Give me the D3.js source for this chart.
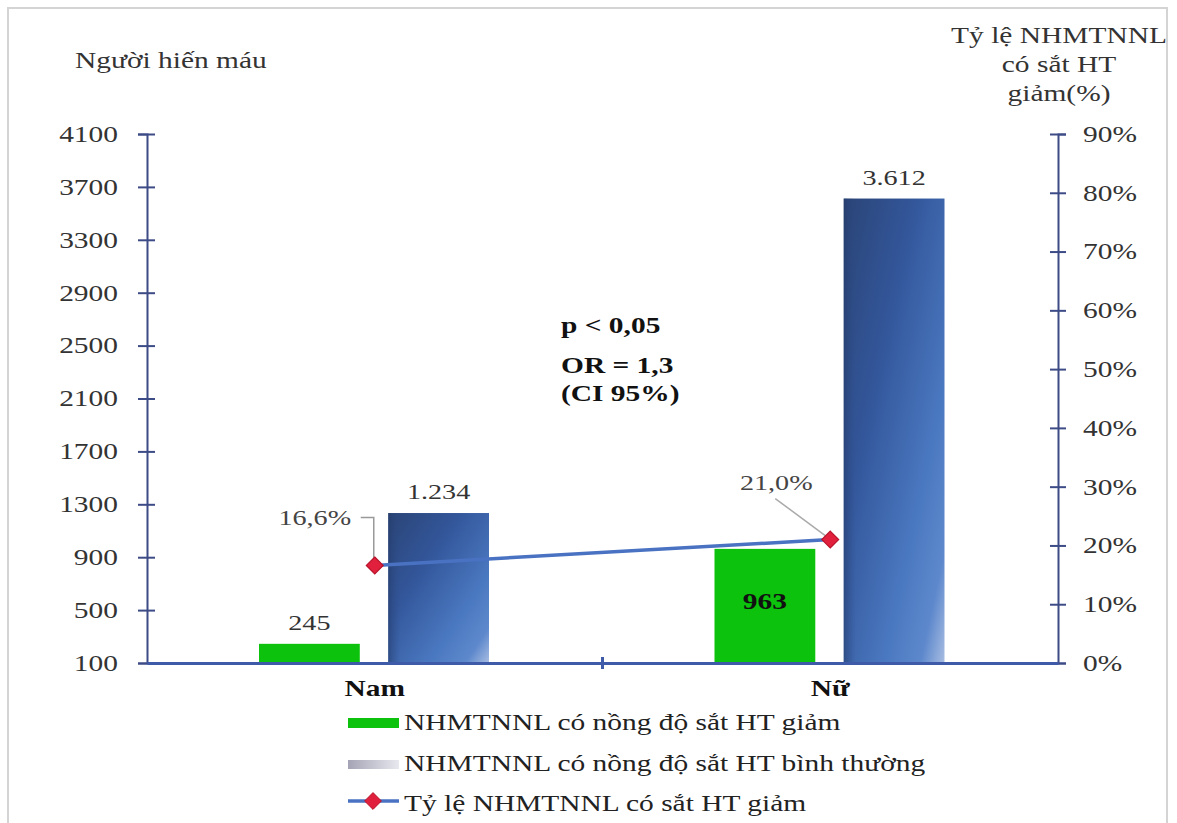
<!DOCTYPE html>
<html>
<head>
<meta charset="utf-8">
<script src="https://cdn.jsdelivr.net/npm/d3@7"></script>
<style>
  html, body { margin: 0; padding: 0; background: #fff; }
  svg { display: block; }
  text { font-family: "Liberation Serif", "Times New Roman", serif; fill: #222; }
</style>
</head>
<body>
<svg id="chart" width="1177" height="823"></svg>
<script>
// Groups and series
const categories = ["Nam", "Nữ"];
const seriesNames = ["NHMTNNL có nồng độ sắt HT giảm", "NHMTNNL có nồng độ sắt HT bình thường"];
const lowIron = [245, 963];          // donors with reduced serum iron
const normalIron = [1234, 3612];     // donors with normal serum iron
const lowIronRate = [0.166, 0.210];  // share of donors with reduced serum iron
const lowIronLabels = ["245", "963"];
const normalIronLabels = ["1.234", "3.612"];
const rateLabels = ["16,6%", "21,0%"];
const leftTicks = [100, 500, 900, 1300, 1700, 2100, 2500, 2900, 3300, 3700, 4100];
const rightTicks = [0, 0.1, 0.2, 0.3, 0.4, 0.5, 0.6, 0.7, 0.8, 0.9];
const lineName = "Tỷ lệ NHMTNNL có sắt HT giảm";
const leftTitle = "Người hiến máu";
const rightTitle = ["Tỷ lệ NHMTNNL", "có sắt HT", "giảm(%)"];
const statLines = ["p < 0,05", "OR = 1,3", "(CI 95%)"];

const SX = 1.28; // horizontal widening applied to all labels
function stretch(sel) {
  sel.each(function () {
    const t = d3.select(this);
    const xv = +t.attr("x") || 0, yv = +t.attr("y") || 0;
    t.attr("x", 0).attr("y", 0).attr("transform", `translate(${xv},${yv}) scale(${SX},1)`);
  });
  return sel;
}

const svg = d3.select("#chart");
const plotLeft = 147, plotRight = 1058, plotTop = 134, plotBottom = 663;

const x = d3.scaleBand().domain(categories).range([plotLeft, plotRight]);
const xs = d3.scaleBand().domain([0, 1]).range([112, 342]).paddingInner(0.22);
const y = d3.scaleLinear().domain([100, 4100]).range([plotBottom, plotTop]);
const yR = d3.scaleLinear().domain([0, 0.9]).range([plotBottom, plotTop]);

// frame
svg.append("rect").attr("x", 8).attr("y", 8).attr("width", 1159).attr("height", 830)
  .attr("fill", "#fff").attr("stroke", "#d4d4d4").attr("stroke-width", 2);

// gradients
const defs = svg.append("defs");
const g1 = defs.append("linearGradient").attr("id", "blueBar")
  .attr("x1", 0).attr("y1", 0).attr("x2", 1).attr("y2", 1);
[[0, "#2a4476"], [0.35, "#33569a"], [0.7, "#4a78c0"], [0.88, "#5d88cc"], [1, "#a8bde2"]]
  .forEach(([o, c]) => g1.append("stop").attr("offset", o).attr("stop-color", c));
const g2 = defs.append("linearGradient").attr("id", "blueEdge")
  .attr("x1", 0).attr("y1", 0).attr("x2", 1).attr("y2", 0);
[[0, "#233a68", 0.55], [0.12, "#2c4a85", 0.0], [1, "#ffffff", 0.0]]
  .forEach(([o, c, a]) => g2.append("stop").attr("offset", o).attr("stop-color", c).attr("stop-opacity", a));
const g3 = defs.append("linearGradient").attr("id", "grayKey")
  .attr("x1", 0).attr("y1", 0).attr("x2", 1).attr("y2", 0);
[[0, "#a4a4b6"], [1, "#e8e8ef"]]
  .forEach(([o, c]) => g3.append("stop").attr("offset", o).attr("stop-color", c));

// bars
const groups = svg.append("g").selectAll("g").data(categories).join("g")
  .attr("transform", d => `translate(${x(d)},0)`);

groups.append("rect")
  .attr("x", xs(0)).attr("width", xs.bandwidth())
  .attr("y", (d, i) => y(lowIron[i])).attr("height", (d, i) => plotBottom - y(lowIron[i]))
  .attr("fill", "#0cc20c");

groups.append("rect")
  .attr("x", xs(1)).attr("width", xs.bandwidth())
  .attr("y", (d, i) => y(normalIron[i])).attr("height", (d, i) => plotBottom - y(normalIron[i]))
  .attr("fill", "url(#blueBar)");
groups.append("rect")
  .attr("x", xs(1)).attr("width", xs.bandwidth())
  .attr("y", (d, i) => y(normalIron[i])).attr("height", (d, i) => plotBottom - y(normalIron[i]))
  .attr("fill", "url(#blueEdge)");

// bar value labels
stretch(groups.append("text")
  .attr("x", xs(0) + xs.bandwidth() / 2)
  .attr("y", (d, i) => i === 0 ? y(lowIron[i]) - 14 : (y(lowIron[i]) + plotBottom) / 2 + 3)
  .attr("text-anchor", "middle")
  .attr("font-size", (d, i) => i === 0 ? 22 : 23)
  .attr("font-weight", (d, i) => i === 0 ? "normal" : "bold")
  .style("fill", (d, i) => i === 0 ? "#333" : "#111")
  .text((d, i) => lowIronLabels[i]));

stretch(groups.append("text")
  .attr("x", xs(1) + xs.bandwidth() / 2)
  .attr("y", (d, i) => y(normalIron[i]) - 14)
  .attr("text-anchor", "middle")
  .attr("font-size", 22)
  .style("fill", "#333")
  .text((d, i) => normalIronLabels[i]));

// left axis
const axL = svg.append("g").attr("transform", `translate(${plotLeft},0)`)
  .call(d3.axisLeft(y).tickValues(leftTicks).tickSize(9).tickPadding(20).tickFormat(d3.format("d")));
axL.select(".domain").attr("stroke", "#3d4b86").attr("stroke-width", 2);
axL.selectAll(".tick line").attr("x1", -9).attr("x2", 8).attr("stroke", "#3d4b86").attr("stroke-width", 2);
stretch(axL.selectAll(".tick text").attr("font-size", 23).attr("font-family", null).style("fill", "#333"));

// right axis
const axR = svg.append("g").attr("transform", `translate(${plotRight},0)`)
  .call(d3.axisRight(yR).tickValues(rightTicks).tickSize(8).tickPadding(17).tickFormat(d3.format(".0%")));
axR.select(".domain").attr("stroke", "#3d4b86").attr("stroke-width", 2);
axR.selectAll(".tick line").attr("x1", -8).attr("x2", 8).attr("stroke", "#3d4b86").attr("stroke-width", 2);
stretch(axR.selectAll(".tick text").attr("font-size", 23).attr("font-family", null).style("fill", "#333"));

// category axis
const axX = svg.append("g").attr("transform", `translate(0,${plotBottom})`)
  .call(d3.axisBottom(x).tickSize(0).tickPadding(17));
axX.select(".domain").attr("stroke", "#3f5aa8").attr("stroke-width", 3);
stretch(axX.selectAll(".tick text").attr("font-size", 23).attr("font-weight", "bold")
  .attr("font-family", null).style("fill", "#111"));
svg.append("line")
  .attr("x1", x("Nữ")).attr("x2", x("Nữ")).attr("y1", plotBottom - 6).attr("y2", plotBottom + 6)
  .attr("stroke", "#3f5aa8").attr("stroke-width", 3);

// rate line
const cx = c => x(c) + x.bandwidth() / 2;
const line = d3.line().x((d, i) => cx(categories[i])).y(d => yR(d));
svg.append("path").datum(lowIronRate).attr("d", line)
  .attr("fill", "none").attr("stroke", "#4a72c2").attr("stroke-width", 3.5);

// leader lines for rate labels
const p0 = [cx(categories[0]), yR(lowIronRate[0])];
const p1 = [cx(categories[1]), yR(lowIronRate[1])];
svg.append("path")
  .attr("d", `M${p0[0] - 14},${p0[1] - 48} H${p0[0] - 1} V${p0[1] - 6}`)
  .attr("fill", "none").attr("stroke", "#999").attr("stroke-width", 1.5);
svg.append("line")
  .attr("x1", p1[0] - 55).attr("y1", p1[1] - 41).attr("x2", p1[0] - 5).attr("y2", p1[1] - 4)
  .attr("stroke", "#aaa").attr("stroke-width", 1.5);

svg.selectAll(".marker").data(lowIronRate).join("path").attr("class", "marker")
  .attr("d", d3.symbol(d3.symbolDiamond2, 180))
  .attr("transform", (d, i) => `translate(${cx(categories[i])},${yR(d)})`)
  .attr("fill", "#e0203c").attr("stroke", "#b8132a").attr("stroke-width", 1.2);

stretch(svg.append("text").attr("x", p0[0] - 60).attr("y", p0[1] - 40)
  .attr("text-anchor", "middle").attr("font-size", 22).style("fill", "#444").text(rateLabels[0]));
stretch(svg.append("text").attr("x", p1[0] - 54).attr("y", p1[1] - 50)
  .attr("text-anchor", "middle").attr("font-size", 22).style("fill", "#444").text(rateLabels[1]));

// axis titles
stretch(svg.append("text").attr("x", 75).attr("y", 68).attr("font-size", 23).style("fill", "#333")
  .text(leftTitle));
rightTitle.forEach((t, i) =>
  stretch(svg.append("text").attr("text-anchor", "middle").attr("font-size", 23).style("fill", "#333")
    .attr("x", 1059).attr("y", 43 + i * 29).text(t)));

// statistics note
statLines.forEach((t, i) =>
  stretch(svg.append("text").attr("x", 561).attr("y", [333, 373, 401][i])
    .attr("font-size", 23).attr("font-weight", "bold").style("fill", "#111").text(t)));

// legend
const leg = svg.append("g").attr("transform", "translate(348,0)");
leg.append("rect").attr("x", 0).attr("y", 718).attr("width", 51).attr("height", 10).attr("fill", "#0cc20c");
leg.append("rect").attr("x", 0).attr("y", 760).attr("width", 51).attr("height", 9).attr("fill", "url(#grayKey)");
leg.append("line").attr("x1", 0).attr("x2", 51).attr("y1", 801).attr("y2", 801)
  .attr("stroke", "#4a72c2").attr("stroke-width", 3.5);
leg.append("path").attr("d", d3.symbol(d3.symbolDiamond2, 180))
  .attr("transform", "translate(25,801)").attr("fill", "#e0203c").attr("stroke", "#b8132a");
[seriesNames[0], seriesNames[1], lineName].forEach((t, i) =>
  stretch(leg.append("text").attr("x", 56).attr("y", [730, 771, 811][i]).attr("font-size", 23)
    .style("fill", "#222").text(t)));
</script>
</body>
</html>
